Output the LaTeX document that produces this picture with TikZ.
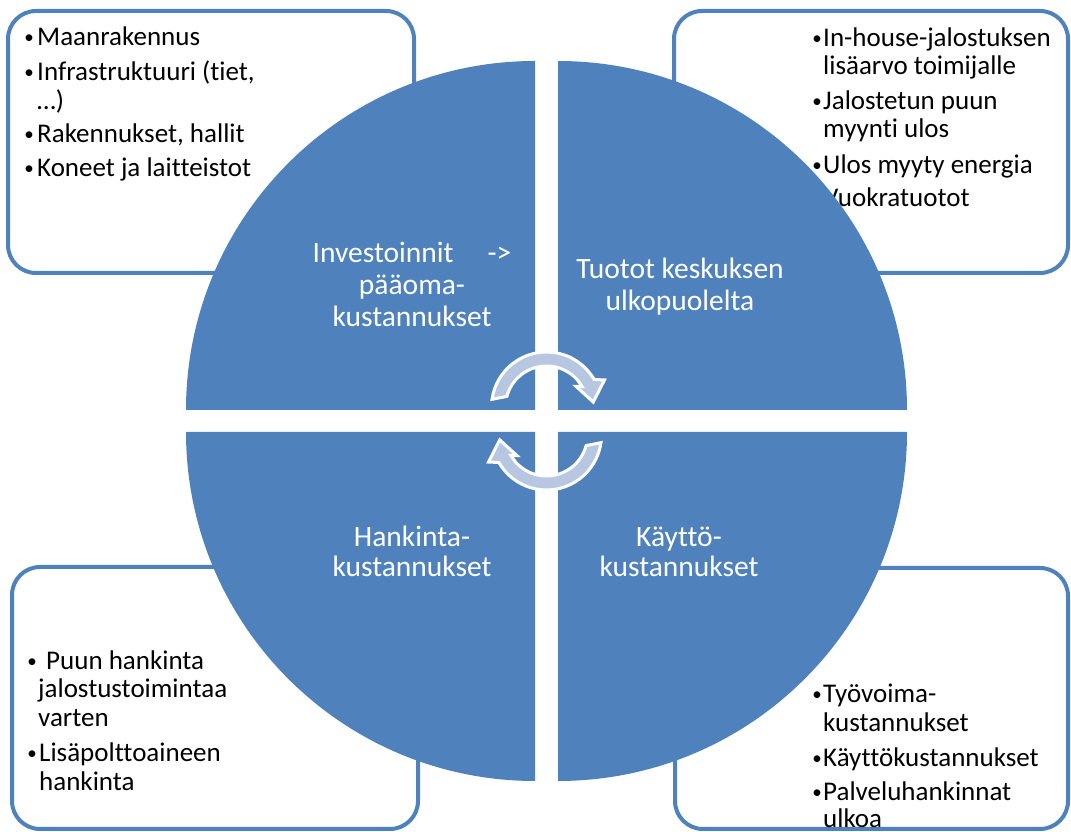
\documentclass[tikz,border=0pt]{standalone}
\usepackage{fontspec}
\setmainfont{Carlito}[Ligatures={NoCommon}]
\definecolor{quadblue}{HTML}{4F81BD}
\definecolor{frameblue}{HTML}{4F81BD}
\definecolor{arrowfill}{HTML}{B7C7E2}
\begin{document}
\begin{tikzpicture}[x=1pt,y=1pt,
  boxframe/.style={draw=frameblue, line width=4pt, rounded corners=28pt, fill=white},
  quad/.style={fill=quadblue},
  boxtxt/.style={anchor=base west, inner sep=0pt, font=\fontsize{27}{29}\selectfont, text=black},
  bul/.style={anchor=base, inner sep=0pt, font=\fontsize{19}{29}\selectfont, text=black, yshift=2pt},
  quadtxt/.style={anchor=base, inner sep=0pt, font=\fontsize{29.5}{32}\selectfont, text=white},
  cyc/.style={fill=arrowfill, draw=white, line width=3pt, line join=miter}]
\useasboundingbox (0,0) rectangle (1071,832);

% frames
\draw[boxframe] (8,559) rectangle (414,821);
\draw[boxframe] (674,559) rectangle (1068,821);
\draw[boxframe] (12,3) rectangle (418,265);
\draw[boxframe] (675,3) rectangle (1068,264);

% top-left text
\node[bul] (b1) at (29,786) {\textbullet};
\node[boxtxt] (t1) at (37,786) {Maanrakennus};
\node[bul] (b2) at (29,751) {\textbullet};
\node[boxtxt] (t2) at (37,751) {Infrastruktuuri (tiet,};
\node[boxtxt] (t3) at (37,722) {…)};
\node[bul] (b3) at (29,689) {\textbullet};
\node[boxtxt] (t4) at (37,689) {Rakennukset, hallit};
\node[bul] (b4) at (29,655) {\textbullet};
\node[boxtxt] (t5) at (37,655) {Koneet ja laitteistot};

% top-right text
\node[bul] (b5) at (817,785) {\textbullet};
\node[boxtxt] (t6) at (823,785) {In-house-jalostuksen};
\node[boxtxt] (t7) at (823,757) {lisäarvo toimijalle};
\node[bul] (b6) at (817,722) {\textbullet};
\node[boxtxt] (t8) at (823,722) {Jalostetun puun};
\node[boxtxt] (t9) at (823,694) {myynti ulos};
\node[bul] (b7) at (817,658) {\textbullet};
\node[boxtxt] (t10) at (823,658) {Ulos myyty energia};
\node[bul] (b8) at (817,625) {\textbullet};
\node[boxtxt] (t11) at (823,625) {Vuokratuotot};

% bottom-left text
\node[bul] (b9) at (32,162) {\textbullet};
\node[boxtxt] (t12) at (46,162) {Puun hankinta};
\node[boxtxt] (t13) at (38,134) {jalostustoimintaa};
\node[boxtxt] (t14) at (38,105) {varten};
\node[bul] (b10) at (32,70) {\textbullet};
\node[boxtxt] (t15) at (39,70) {Lisäpolttoaineen};
\node[boxtxt] (t16) at (39,41) {hankinta};

% bottom-right text
\node[bul] (b11) at (817,129) {\textbullet};
\node[boxtxt] (t17) at (823,129) {Työvoima-};
\node[boxtxt] (t18) at (823,100) {kustannukset};
\node[bul] (b12) at (817,65) {\textbullet};
\node[boxtxt] (t19) at (823,65) {Käyttökustannukset};
\node[bul] (b13) at (817,31) {\textbullet};
\node[boxtxt] (t20) at (823,31) {Palveluhankinnat};
\node[boxtxt] (t21) at (823,4) {ulkoa};

% quadrants
\fill[quad] (535,422) -- (186,422) arc[start angle=180,end angle=90,radius=349] -- cycle;
\fill[quad] (558,422) -- (558,771) arc[start angle=90,end angle=0,radius=349] -- cycle;
\fill[quad] (535,400) -- (186,400) arc[start angle=180,end angle=270,radius=349] -- cycle;
\fill[quad] (558,400) -- (907,400) arc[start angle=0,end angle=-90,radius=349] -- cycle;

% quadrant labels
\node[quadtxt] (q1a) at (412,569) {Investoinnit\hspace{34pt}->};
\node[quadtxt] (q1b) at (412,537) {pääoma-};
\node[quadtxt] (q1c) at (412,505) {kustannukset};
\node[quadtxt] (q2a) at (680,553) {Tuotot keskuksen};
\node[quadtxt] (q2b) at (680,521) {ulkopuolelta};
\node[quadtxt] (q3a) at (412,285) {Hankinta-};
\node[quadtxt] (q3b) at (412,255) {kustannukset};
\node[quadtxt] (q4a) at (679,285) {Käyttö-};
\node[quadtxt] (q4b) at (679,255) {kustannukset};

% circular arrows
\begin{scope}[shift={(546.5,425)}]
\filldraw[cyc] (172:55) arc[start angle=172,end angle=30,radius=55] -- (25:64) -- (6:47) -- (35:36) -- (30:41) arc[start angle=30,end angle=165,radius=41] -- cycle;
\end{scope}
\begin{scope}[shift={(546.5,397)},rotate=180]
\filldraw[cyc] (172:55) arc[start angle=172,end angle=30,radius=55] -- (25:64) -- (6:47) -- (35:36) -- (30:41) arc[start angle=30,end angle=165,radius=41] -- cycle;
\end{scope}
\end{tikzpicture}
\end{document}
